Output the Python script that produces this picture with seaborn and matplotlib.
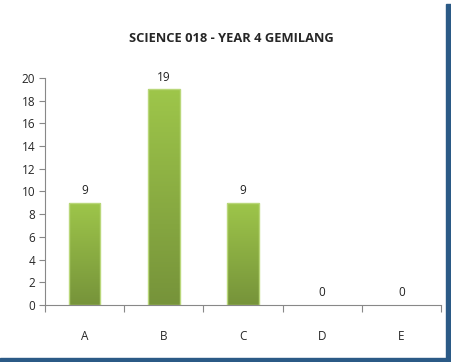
import matplotlib
matplotlib.use("Agg")
import matplotlib.pyplot as plt
import matplotlib.patches as mpatches
import numpy as np
import pandas as pd
import seaborn as sns

grades = ["A", "B", "C", "D", "E"]
counts = [9, 19, 9, 0, 0]
y_ticks = list(range(0, 21, 2))
title = "SCIENCE 018 - YEAR 4 GEMILANG"

sns.set_theme(style="white")
plt.rcParams["font.family"] = ["Open Sans", "DejaVu Sans"]

fig = plt.figure(figsize=(4.51, 3.62), dpi=100)
ax = fig.add_axes([0.0998, 0.1575, 0.878, 0.627])

df = pd.DataFrame({"grade": grades, "count": counts})
sns.barplot(data=df, x="grade", y="count", ax=ax, width=0.4,
            color="#8db544", edgecolor="#b9d77a", linewidth=1.0, saturation=1)

# vertical green gradient in each bar (light on top, darker at base)
grad = np.linspace(0, 1, 256).reshape(-1, 1)
cmap = matplotlib.colors.LinearSegmentedColormap.from_list("g", ["#9ec64a", "#76933a"])
for p in ax.patches:
    x0, y0 = p.get_x(), p.get_y()
    w, h = p.get_width(), p.get_height()
    if h <= 0:
        p.set_linewidth(0)
        continue
    im = ax.imshow(grad, cmap=cmap, aspect="auto", extent=[x0, x0 + w, y0, y0 + h],
                   zorder=p.get_zorder(), origin="upper")
    im.set_clip_path(p)
    p.set_facecolor("none")
    p.set_zorder(p.get_zorder() + 0.5)

for i, v in enumerate(counts):
    ax.text(i, v + 0.5, str(v), ha="center", va="bottom", fontsize=8.5, color="#222222")

ax.set_xlim(-0.5, 4.5)
ax.set_ylim(0, 20)
ax.set_yticks(y_ticks)
ax.set_xlabel("")
ax.set_ylabel("")
ax.tick_params(axis="y", labelsize=8.5, length=4, width=0.8, color="#888888", left=True, pad=3)
ax.set_xticks(range(len(grades)))
ax.set_xticklabels(grades)
ax.tick_params(axis="x", which="major", length=0, labelsize=8.5, pad=18)
ax.set_xticks(np.arange(-0.5, 5, 1), minor=True)
ax.tick_params(axis="x", which="minor", length=5, width=0.8, color="#888888", bottom=True)
for s in ["top", "right"]:
    ax.spines[s].set_visible(False)
for s in ["left", "bottom"]:
    ax.spines[s].set_color("#888888")
    ax.spines[s].set_linewidth(0.8)

fig.text(0.512, 0.895, title, ha="center", va="center", fontsize=9.3, fontweight="bold")

# frame shadow on right and bottom
fig.patches.append(mpatches.Rectangle((446 / 451, 0), 5 / 451, 1 - 4 / 362,
                                      transform=fig.transFigure, color="#2b5a86", zorder=0))
fig.patches.append(mpatches.Rectangle((0, 0), 1, 4 / 362,
                                      transform=fig.transFigure, color="#2b5a86", zorder=0))

fig.savefig("out.png", dpi=100)
